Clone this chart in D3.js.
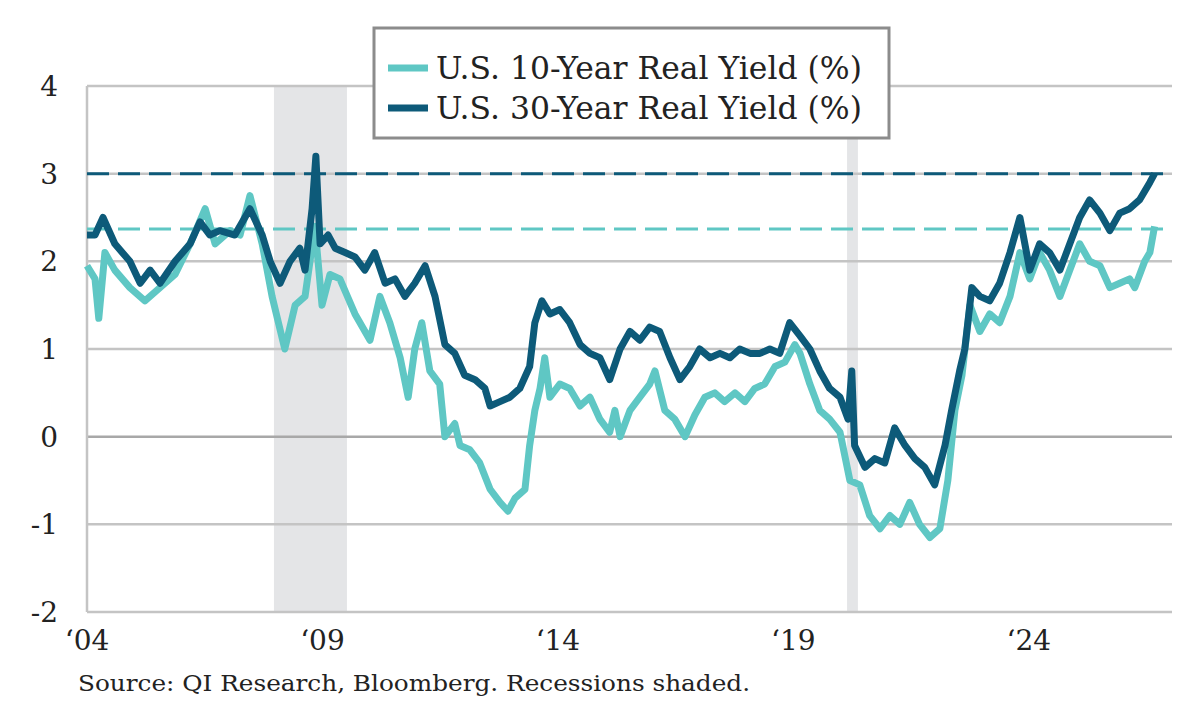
<!DOCTYPE html>
<html><head><meta charset="utf-8">
<script src="https://cdn.jsdelivr.net/npm/d3@7"></script>
<style>body{margin:0;background:#fff}svg{display:block}</style></head>
<body><svg id="c" width="1200" height="720"></svg>
<script>
const yTicks=[4,3,2,1,0,-1,-2];
const xTickYears=[2004,2009,2014,2019,2024];
const xTickLabels=["‘04","‘09","‘14","‘19","‘24"];
const recessions=[[2007.97,2009.52],[2020.14,2020.37]];
const refLevels={dark:3.0,light:2.37};
const seriesNames=["U.S. 10-Year Real Yield (%)","U.S. 30-Year Real Yield (%)"];
const yield10Dates=[2004.00,2004.17,2004.25,2004.38,2004.59,2004.91,2005.23,2005.55,2005.87,2006.19,2006.51,2006.72,2007.04,2007.25,2007.46,2007.72,2007.93,2008.20,2008.42,2008.63,2008.84,2008.99,2009.16,2009.37,2009.69,2010.01,2010.22,2010.43,2010.65,2010.82,2010.96,2011.11,2011.28,2011.49,2011.60,2011.81,2011.92,2012.13,2012.34,2012.56,2012.77,2012.94,2013.09,2013.30,2013.40,2013.51,2013.62,2013.72,2013.83,2014.04,2014.25,2014.47,2014.68,2014.89,2015.10,2015.21,2015.32,2015.53,2015.74,2015.95,2016.06,2016.27,2016.48,2016.70,2016.91,2017.12,2017.33,2017.54,2017.76,2017.97,2018.18,2018.39,2018.61,2018.82,2019.03,2019.14,2019.35,2019.56,2019.77,2019.99,2020.20,2020.41,2020.62,2020.84,2021.05,2021.26,2021.47,2021.68,2021.90,2022.11,2022.28,2022.43,2022.58,2022.75,2022.96,2023.17,2023.38,2023.60,2023.81,2024.02,2024.23,2024.44,2024.66,2024.87,2025.08,2025.29,2025.51,2025.72,2025.93,2026.14,2026.25,2026.46,2026.57,2026.67];
const yield10Values=[1.95,1.8,1.35,2.1,1.9,1.7,1.55,1.7,1.85,2.2,2.6,2.2,2.35,2.3,2.75,2.2,1.6,1.0,1.5,1.6,2.4,1.5,1.85,1.8,1.4,1.1,1.6,1.3,0.9,0.45,1.0,1.3,0.75,0.6,0.0,0.15,-0.1,-0.15,-0.3,-0.6,-0.75,-0.85,-0.7,-0.6,-0.1,0.3,0.55,0.9,0.45,0.6,0.55,0.35,0.45,0.2,0.05,0.3,0.0,0.3,0.45,0.6,0.75,0.3,0.2,0.0,0.25,0.45,0.5,0.4,0.5,0.4,0.55,0.6,0.8,0.85,1.05,0.95,0.6,0.3,0.2,0.05,-0.5,-0.55,-0.9,-1.05,-0.9,-1.0,-0.75,-1.0,-1.15,-1.05,-0.5,0.3,0.7,1.5,1.2,1.4,1.3,1.6,2.1,1.8,2.1,1.9,1.6,1.9,2.2,2.0,1.95,1.7,1.75,1.8,1.7,2.0,2.1,2.4];
const yield30Dates=[2004.00,2004.17,2004.34,2004.59,2004.91,2005.13,2005.34,2005.55,2005.87,2006.19,2006.40,2006.61,2006.82,2007.14,2007.46,2007.72,2007.89,2008.10,2008.31,2008.52,2008.63,2008.78,2008.86,2008.95,2009.12,2009.27,2009.48,2009.69,2009.90,2010.11,2010.33,2010.54,2010.75,2010.96,2011.18,2011.39,2011.60,2011.81,2012.02,2012.24,2012.45,2012.56,2012.77,2012.98,2013.19,2013.40,2013.51,2013.66,2013.83,2014.04,2014.25,2014.47,2014.68,2014.89,2015.10,2015.32,2015.53,2015.74,2015.95,2016.16,2016.38,2016.59,2016.80,2017.01,2017.23,2017.44,2017.65,2017.86,2018.08,2018.29,2018.50,2018.71,2018.92,2019.14,2019.35,2019.56,2019.77,2019.99,2020.16,2020.24,2020.30,2020.52,2020.73,2020.94,2021.15,2021.37,2021.58,2021.79,2022.00,2022.22,2022.36,2022.53,2022.64,2022.79,2022.96,2023.17,2023.38,2023.60,2023.81,2024.02,2024.23,2024.44,2024.66,2024.87,2025.08,2025.29,2025.51,2025.72,2025.93,2026.14,2026.35,2026.57,2026.67];
const yield30Values=[2.3,2.3,2.5,2.2,2.0,1.75,1.9,1.75,2.0,2.2,2.45,2.3,2.35,2.3,2.6,2.3,2.0,1.75,2.0,2.15,1.9,2.6,3.2,2.2,2.3,2.15,2.1,2.05,1.9,2.1,1.75,1.8,1.6,1.75,1.95,1.6,1.05,0.95,0.7,0.65,0.55,0.35,0.4,0.45,0.55,0.8,1.3,1.55,1.4,1.45,1.3,1.05,0.95,0.9,0.65,1.0,1.2,1.1,1.25,1.2,0.9,0.65,0.8,1.0,0.9,0.95,0.9,1.0,0.95,0.95,1.0,0.95,1.3,1.15,1.0,0.75,0.55,0.45,0.2,0.75,-0.1,-0.35,-0.25,-0.3,0.1,-0.1,-0.25,-0.35,-0.55,-0.1,0.3,0.75,1.0,1.7,1.6,1.55,1.75,2.1,2.5,1.9,2.2,2.1,1.9,2.2,2.5,2.7,2.55,2.35,2.55,2.6,2.7,2.9,3.0];

const light="#5fc7c4", dark="#0d5a79";
const svg=d3.select("#c");
const x=d3.scaleLinear().domain([2004,2027.04]).range([87,1172]);
const y=d3.scaleLinear().domain([-2,4]).range([612,86]);
const font="'DejaVu Serif',serif";

svg.selectAll("rect.rec").data(recessions).join("rect")
 .attr("x",d=>x(d[0])).attr("width",d=>x(d[1])-x(d[0]))
 .attr("y",y(4)).attr("height",y(-2)-y(4)).attr("fill","#e4e5e7");

svg.selectAll("line.grid").data(yTicks).join("line")
 .attr("x1",87).attr("x2",1172).attr("y1",d=>y(d)).attr("y2",d=>y(d))
 .attr("stroke",d=>d===0?"#a8a8a8":"#c4c4c4").attr("stroke-width",2.5);
svg.append("line").attr("x1",87).attr("x2",87).attr("y1",y(4)).attr("y2",y(-2)).attr("stroke","#c4c4c4").attr("stroke-width",2.5);

svg.append("line").attr("x1",87).attr("x2",1172).attr("y1",y(refLevels.dark)).attr("y2",y(refLevels.dark)).attr("stroke",dark).attr("stroke-width",3).attr("stroke-dasharray","22,9");
svg.append("line").attr("x1",87).attr("x2",1172).attr("y1",y(refLevels.light)).attr("y2",y(refLevels.light)).attr("stroke",light).attr("stroke-width",3).attr("stroke-dasharray","22,9");

const line=d3.line().x(d=>x(d[0])).y(d=>y(d[1]));
svg.append("path").datum(d3.zip(yield10Dates,yield10Values)).attr("d",line).attr("fill","none").attr("stroke",light).attr("stroke-width",7).attr("stroke-linejoin","round");
svg.append("path").datum(d3.zip(yield30Dates,yield30Values)).attr("d",line).attr("fill","none").attr("stroke",dark).attr("stroke-width",7).attr("stroke-linejoin","round");

svg.selectAll("text.yt").data(yTicks).join("text")
 .attr("x",58).attr("y",d=>y(d)+10).attr("text-anchor","end")
 .attr("font-family",font).attr("font-size",28).attr("fill","#222").text(d=>d);
svg.selectAll("text.xt").data(xTickYears).join("text")
 .attr("x",d=>x(d)).attr("y",650).attr("text-anchor","middle")
 .attr("font-family",font).attr("font-size",28).attr("fill","#222").text((d,i)=>xTickLabels[i]);

svg.append("text").attr("x",78).attr("y",691).attr("font-family",font).attr("font-size",23).attr("fill","#222")
 .attr("textLength",672).attr("lengthAdjust","spacingAndGlyphs")
 .text("Source: QI Research, Bloomberg. Recessions shaded.");

const lg=svg.append("g");
lg.append("rect").attr("x",374).attr("y",28).attr("width",515).attr("height",110).attr("fill","#fff").attr("stroke","#8c8c8c").attr("stroke-width",3);
[light,dark].forEach((c,i)=>{
 const yy=68+i*40;
 lg.append("line").attr("x1",388).attr("x2",428).attr("y1",yy).attr("y2",yy).attr("stroke",c).attr("stroke-width",7);
 lg.append("text").attr("x",436).attr("y",yy+11).attr("font-family",font).attr("font-size",31).attr("fill","#222")
  .attr("textLength",426).attr("lengthAdjust","spacingAndGlyphs").text(seriesNames[i]);
});
</script></body></html>
